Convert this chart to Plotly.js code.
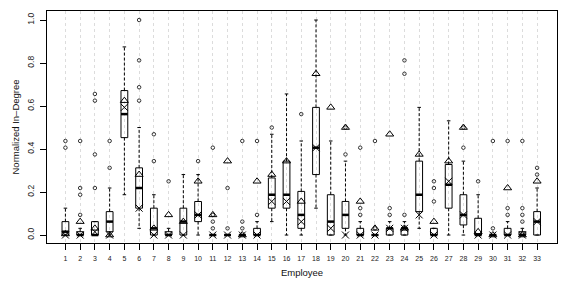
<!DOCTYPE html>
<html>
<head>
<meta charset="utf-8">
<script src="https://cdn.plot.ly/plotly-3.0.1.min.js"></script>
<style>html,body{margin:0;padding:0;background:#fff;}#chart{width:580px;height:290px;}</style>
</head>
<body>
<div id="chart"></div>
<script>
const employees = Array.from({length: 33}, (_, i) => i + 1);
const tickLabels = employees.map(String);
const yTickVals = [0, 0.2, 0.4, 0.6, 0.8, 1.0];
const yTickText = ['0.0', '0.2', '0.4', '0.6', '0.8', '1.0'];

const q1 = [0, 0, 0, 0.0156, 0.453, 0.125, 0, 0, 0, 0.0625, 0, 0, 0, 0, 0.125, 0.125, 0.03125,
  0.28125, 0, 0.03125, 0, 0, 0, 0, 0.109, 0, 0.125, 0.047, 0, 0, 0, 0, 0];
const medians = [0.0156, 0, 0, 0.0625, 0.5625, 0.21875, 0.03125, 0, 0.0625, 0.09375, 0, 0, 0, 0,
  0.1875, 0.1875, 0.09375, 0.40625, 0.0625, 0.09375, 0, 0, 0.03125, 0.03125, 0.1875, 0, 0.234,
  0.09375, 0, 0, 0, 0, 0.0625];
const q3 = [0.0625, 0.0156, 0.0625, 0.109, 0.672, 0.3125, 0.125, 0.0156, 0.125, 0.156, 0, 0, 0,
  0.03125, 0.2656, 0.34375, 0.203, 0.59375, 0.1875, 0.15625, 0.03125, 0, 0.03125, 0.03125, 0.34375,
  0.03125, 0.328, 0.1875, 0.078, 0, 0.03125, 0.0156, 0.109];
const lowerWhisker = [0, 0, 0, 0, 0.1875, 0.03125, 0, 0, 0, 0, 0, 0, 0, 0, 0.0625, 0, 0, 0.125, 0,
  0, 0, 0, 0, 0, 0.03125, 0, 0, 0, 0, 0, 0, 0, 0];
const upperWhisker = [0.125, 0.03125, 0.0625, 0.21875, 0.875, 0.5, 0.1875, 0.03125, 0.28125,
  0.28125, 0, 0, 0, 0.0625, 0.46875, 0.65625, 0.4375, 1.0, 0.4375, 0.34375, 0.0625, 0, 0.0625,
  0.0625, 0.59375, 0.03125, 0.53125, 0.34375, 0.1875, 0, 0.0625, 0.03125, 0.21875];
const outliers = [
  [0.4375, 0.40625], [0.4375, 0.21875, 0.1875, 0.09375], [0.65625, 0.625, 0.375, 0.21875],
  [0.4375, 0.3125], [], [1.0, 0.8125, 0.6875, 0.625], [0.46875, 0.34375], [0.25], [], [0.34375],
  [0.40625, 0.09375, 0.0625, 0.03125], [0.21875, 0.03125], [0.4375, 0.0625, 0.03125],
  [0.4375, 0.09375], [0.5], [], [0.5625], [], [], [0.5, 0.375], [0.40625, 0.125, 0.09375],
  [0.4375, 0.03125], [0.125, 0.09375], [0.8125, 0.75, 0.09375], [], [0.25, 0.21875, 0.15625], [],
  [0.5, 0.40625], [0.25], [0.4375, 0.03125], [0.4375, 0.125, 0.09375],
  [0.4375, 0.125, 0.09375, 0.0625], [0.3125, 0.28125]
];
const crossValues = [0, 0, 0.0156, 0, 0.594, 0.125, 0, 0, 0, 0.09375, 0, 0, 0, 0, 0.15625, 0.15625,
  0.0625, 0.40625, 0.03125, 0, 0, 0, 0.03125, 0.03125, 0.09375, 0, 0.25, 0.09375, 0, 0, 0, 0, 0.0625];
const triangleValues = [0.005, 0.0625, 0.03125, 0, 0.625, 0.28125, 0.03125, 0.09375, 0.0625, 0.25,
  0.09375, 0.34375, 0, 0.25, 0.28125, 0.34375, 0.15625, 0.75, 0.59375, 0.5, 0.15625, 0.03125,
  0.46875, 0.03125, 0.375, 0.0625, 0.34375, 0.5, 0.015, 0, 0.21875, 0, 0.25];

const halfBox = 0.23, halfStaple = 0.12;
const bx = [], by = [], mx = [], my = [], wx = [], wy = [], sx = [], sy = [], ox = [], oy = [];
employees.forEach((e, i) => {
  bx.push(e - halfBox, e + halfBox, e + halfBox, e - halfBox, e - halfBox, null);
  by.push(q1[i], q1[i], q3[i], q3[i], q1[i], null);
  mx.push(e - halfBox, e + halfBox, null);
  my.push(medians[i], medians[i], null);
  wx.push(e, e, null, e, e, null);
  wy.push(q3[i], upperWhisker[i], null, q1[i], lowerWhisker[i], null);
  sx.push(e - halfStaple, e + halfStaple, null, e - halfStaple, e + halfStaple, null);
  sy.push(upperWhisker[i], upperWhisker[i], null, lowerWhisker[i], lowerWhisker[i], null);
  outliers[i].forEach(v => { ox.push(e); oy.push(v); });
});

const traces = [
  {x: wx, y: wy, mode: 'lines', line: {color: '#000', width: 1, dash: '3px,2px'}, hoverinfo: 'skip'},
  {x: sx, y: sy, mode: 'lines', line: {color: '#000', width: 1}, hoverinfo: 'skip'},
  {x: bx, y: by, mode: 'lines', line: {color: '#000', width: 1}, hoverinfo: 'skip'},
  {x: mx, y: my, mode: 'lines', line: {color: '#000', width: 2.5}, hoverinfo: 'skip'},
  {x: ox, y: oy, mode: 'markers', marker: {symbol: 'circle-open', size: 3.5, color: '#333', line: {width: 1}}},
  {x: employees, y: crossValues, mode: 'markers', marker: {symbol: 'x-thin-open', size: 7, color: '#000', line: {width: 1, color: '#000'}}},
  {x: employees, y: triangleValues, mode: 'markers', marker: {symbol: 'triangle-up-open', size: 7, color: '#000', line: {width: 1, color: '#000'}}}
];

const layout = {
  width: 580, height: 290,
  margin: {l: 47, r: 23, t: 11, b: 47},
  paper_bgcolor: '#fff', plot_bgcolor: '#fff',
  showlegend: false,
  font: {family: 'Liberation Sans, Arial, sans-serif', color: '#222'},
  xaxis: {
    range: [-0.25, 34.35], tickvals: employees, ticktext: tickLabels,
    tickfont: {size: 7, color: '#222'}, ticks: 'outside', ticklen: 6, tickcolor: '#000', tickwidth: 1,
    ticklabelstandoff: 3,
    showgrid: true, gridcolor: '#dcdcdc', griddash: 'dot', gridwidth: 1,
    showline: true, mirror: true, linecolor: '#000', linewidth: 1, zeroline: false,
    title: {text: 'Employee', font: {size: 9.5, color: '#111'}, standoff: 7}
  },
  yaxis: {
    range: [-0.037, 1.042], tickvals: yTickVals, ticktext: yTickText, tickangle: -90,
    tickfont: {size: 8.5, color: '#222'}, ticks: 'outside', ticklen: 6, tickcolor: '#000', tickwidth: 1,
    ticklabelstandoff: 3,
    showgrid: false, zeroline: false,
    showline: true, mirror: true, linecolor: '#000', linewidth: 1,
    title: {text: 'Normalized In–Degree', font: {size: 9.5, color: '#111'}, standoff: 4}
  }
};

Plotly.newPlot('chart', traces, layout, {staticPlot: true, displayModeBar: false});
</script>
</body>
</html>
